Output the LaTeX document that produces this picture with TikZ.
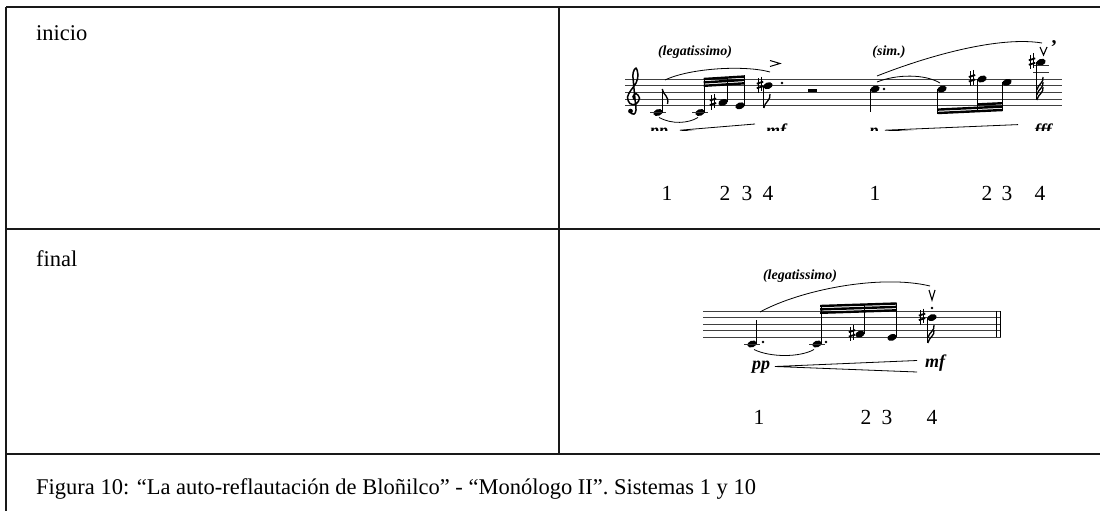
\documentclass[tikz,border=0pt]{standalone}
\usepackage{fontspec}
\setmainfont{Liberation Serif}
\usetikzlibrary{shapes.geometric}

\begin{document}
\begin{tikzpicture}[x=1pt,y=-1pt,
    rule/.style={line width=2.2pt, black!90},
    staffline/.style={line width=0.9pt, black!75},
    ledger/.style={line width=0.9pt, black!80},
    head/.style={ellipse, fill, inner sep=0pt, minimum width=9.6pt, minimum height=6.6pt, rotate=20},
    stem/.style={line width=0.9pt},
    beam/.style={line width=2.4pt},
    flag/.style={line width=1.3pt},
    slur/.style={line width=0.8pt},
    augdot/.style={circle, fill, inner sep=0pt, minimum size=2.6pt},
    celltext/.style={anchor=base west, inner sep=0pt, font=\fontsize{22.5}{26}\selectfont},
    num/.style={anchor=base, font=\fontsize{21.5}{24}\selectfont},
    expr/.style={font=\fontsize{14}{16}\selectfont\bfseries\itshape},
    dyn/.style={anchor=base, font=\fontsize{18}{20}\selectfont\bfseries\itshape},
    sharp/.pic={
        \draw[line width=0.7pt] (-1.4,-6.5) -- (-1.4,8) (1.4,-8) -- (1.4,6.5);
        \draw[line width=1.8pt] (-3.2,-1) -- (3.2,-3) (-3.2,3.5) -- (3.2,1.5);
    }]
    \useasboundingbox (0,0) rectangle (1100,511);

    \draw[rule] (6,7) -- (1100,7);
    \draw[rule] (6,7) -- (6,511);
    \draw[rule] (6,229) -- (1100,229);
    \draw[rule] (6,454) -- (1100,454);
    \draw[rule] (559,7) -- (559,454);

    \node[celltext] (start) at (36,41) {inicio};
    \node[celltext] (finish) at (36,266) {final};
    \node[celltext] (caption) at (36,494) {Figura 10: “La auto-reflautación de Bloñilco” - “Monólogo II”. Sistemas 1 y 10};

    \node[num] (a1) at (667,200) {1};
    \node[num] (a2) at (725,200) {2};
    \node[num] (a3) at (747,200) {3};
    \node[num] (a4) at (768,200) {4};
    \node[num] (a5) at (875,200) {1};
    \node[num] (a6) at (987,200) {2};
    \node[num] (a7) at (1007,200) {3};
    \node[num] (a8) at (1040,200) {4};

    \node[num] (b1) at (759,424) {1};
    \node[num] (b2) at (866,424) {2};
    \node[num] (b3) at (887,424) {3};
    \node[num] (b4) at (932,424) {4};

    \begin{scope}
        \clip (600,20) rectangle (1090,130.5);
        \draw[staffline] (625,79) -- (1062,79) (625,85.7) -- (1062,85.7) (625,92.4) -- (1062,92.4)
            (625,99.1) -- (1062,99.1) (625,105.8) -- (1062,105.8);

        \begin{scope}[shift={(633,99.1)}]
            \draw[line width=1.5pt, line cap=round] plot[smooth, tension=0.6] coordinates {(1.5,0.5) (0,-2.5) (3,-5.5) (6.5,-1) (3,5) (-3,4.5) (-5.5,-2) (-2,-9) (3,-16) (5,-24) (3,-31) (0,-26) (0.5,-16) (2,0) (3,11) (1,15) (-2,14)};
            \fill (-2.5,12) circle (2.4);
        \end{scope}

        \node[expr] (legato1) at (695,52) {(legatissimo)};
        \node[expr] (simile) at (889,52) {(sim.)};

        \node[head] (h1) at (658,112.5) {};
        \node[head] (h2) at (700,112.5) {};
        \node[head] (h3) at (723,102.45) {};
        \node[head] (h4) at (740,105.8) {};
        \node[head] (h5) at (768,85.7) {};
        \node[head] (h6) at (875,89.05) {};
        \node[head] (h7) at (942,89.05) {};
        \node[head] (h8) at (982,79) {};
        \node[head] (h9) at (1007,82.35) {};
        \node[head] (h10) at (1041,62.25) {};

        \draw[ledger] (650,112.5) -- (666,112.5) (692,112.5) -- (708,112.5);
        \draw[ledger] (1033,72.3) -- (1049,72.3) (1033,65.6) -- (1049,65.6);

        \pic at (713,101.5) {sharp};
        \pic at (760,84.7) {sharp};
        \pic at (972,78) {sharp};
        \pic at (1032,61.3) {sharp};

        \draw[stem] ([xshift=4.2pt]h1.center) -- ++(0,-23.5);
        \draw[flag] (662.2,89) .. controls (663,95) and (669.5,96) .. (667.5,104);
        \draw[stem] ([xshift=4.2pt]h2.center) -- ++(0,-34.5);
        \draw[stem] ([xshift=4.2pt]h3.center) -- ++(0,-25.9);
        \draw[stem] ([xshift=4.2pt]h4.center) -- ++(0,-30.3);
        \draw[beam] (703.7,79) -- (744.6,76.5);
        \draw[beam] (703.7,82.4) -- (744.6,79.9);
        \draw[beam] (703.7,85.8) -- (744.6,83.3);

        \draw[stem] ([xshift=-4.2pt]h5.center) -- ++(0,22.3);
        \draw[flag] (763.8,108) .. controls (764.5,102) and (771,100.5) .. (770,94);
        \node[augdot] (d5) at (782,83) {};
        \draw[line width=1pt] (770,60.5) -- (780,63.5) -- (770,66.5);

        \draw[slur] (659,117.5) .. controls (672,124.5) and (688,123.5) .. (698,117.5);
        \draw[slur] (665,80) .. controls (690,68) and (745,65) .. (770,72);

        \fill (808,89) rectangle (817,92.4);

        \draw[stem] ([xshift=-4.2pt]h6.center) -- ++(0,23);
        \node[augdot] (d6) at (884,89) {};
        \draw[stem] ([xshift=-4.2pt]h7.center) -- ++(0,25);
        \draw[stem] ([xshift=-4.2pt]h8.center) -- ++(0,33.2);
        \draw[stem] ([xshift=-4.2pt]h9.center) -- ++(0,28.6);
        \draw[beam] (937.8,113) -- (1002.8,110);
        \draw[beam] (937.8,109.6) -- (1002.8,106.6);
        \draw[beam] (977.8,104.4) -- (1002.8,103.2);
        \draw[slur] (877,82) .. controls (897,74) and (925,74) .. (940,83);

        \draw[stem] ([xshift=-4.2pt]h10.center) -- ++(0,37.75);
        \draw[flag] (1036.8,100) .. controls (1038,94) and (1044,93) .. (1043,87);
        \draw[flag] (1036.8,95) .. controls (1038,89) and (1044,88) .. (1043,82);
        \draw[flag] (1036.8,90) .. controls (1038,84) and (1044,83) .. (1043,77);
        \draw[line width=1.1pt] (1040,47) -- (1043.5,55) -- (1047,47);
        \node[font=\fontsize{20}{20}\selectfont\bfseries] (breath) at (1054,44) {,};
        \draw[slur] (877,76) .. controls (930,55) and (1000,36) .. (1042,43);

        \node[dyn] (pp1) at (659,136) {pp};
        \draw[slur] (755,124) -- (680,130.2) -- (755,136.4);
        \node[dyn] (mf1) at (776,136) {mf};
        \node[dyn] (p2) at (874,136) {p};
        \draw[slur] (1018,124.6) -- (885,130.2) -- (1018,135.8);
        \node[dyn] (fff) at (1043,136) {fff};
    \end{scope}

    \draw[staffline] (703,311) -- (1001,311) (703,317.6) -- (1001,317.6) (703,324.2) -- (1001,324.2)
        (703,330.8) -- (1001,330.8) (703,337.4) -- (1001,337.4);
    \draw[line width=0.9pt] (996.5,311) -- (996.5,337.4) (1000.6,311) -- (1000.6,337.4);

    \node[expr] (legato2) at (800,276) {(legatissimo)};

    \node[head] (g1) at (752,344) {};
    \node[head] (g2) at (817,344) {};
    \node[head] (g3) at (860,334.1) {};
    \node[head] (g4) at (892,337.4) {};
    \node[head] (g5) at (932,317.6) {};

    \draw[ledger] (744,344) -- (760,344) (809,344) -- (825,344);
    \pic at (852,333.1) {sharp};
    \pic at (922,316.6) {sharp};

    \draw[stem] ([xshift=4.2pt]g1.center) -- ++(0,-24);
    \node[augdot] (e1) at (763,342) {};
    \draw[stem] ([xshift=4.2pt]g2.center) -- ++(0,-39);
    \node[augdot] (e2) at (826,342) {};
    \draw[stem] ([xshift=4.2pt]g3.center) -- ++(0,-30.5);
    \draw[stem] ([xshift=4.2pt]g4.center) -- ++(0,-34.9);
    \draw[beam] (820.2,306) -- (896.6,303.5);
    \draw[beam] (820.2,309.4) -- (896.6,306.9);
    \draw[beam] (820.2,312.8) -- (896.6,310.3);

    \draw[stem] ([xshift=-4.2pt]g5.center) -- ++(0,25.4);
    \draw[flag] (927.8,343) .. controls (929,337) and (935,336) .. (934,330);
    \draw[flag] (927.8,338) .. controls (929,332) and (935,331) .. (934,325);
    \node[augdot] (e5) at (932,308) {};
    \draw[line width=1.1pt] (929,290) -- (932,300) -- (935,290);

    \draw[slur] (754,349.5) .. controls (770,357.5) and (800,357.5) .. (814,349.5);
    \draw[slur] (760,312) .. controls (800,290) and (880,274) .. (930,286);

    \node[dyn] (pp3) at (761,369) {pp};
    \draw[slur] (917,360.5) -- (775,366.5) -- (917,372);
    \node[dyn] (mf3) at (935,367) {mf};
\end{tikzpicture}
\end{document}
